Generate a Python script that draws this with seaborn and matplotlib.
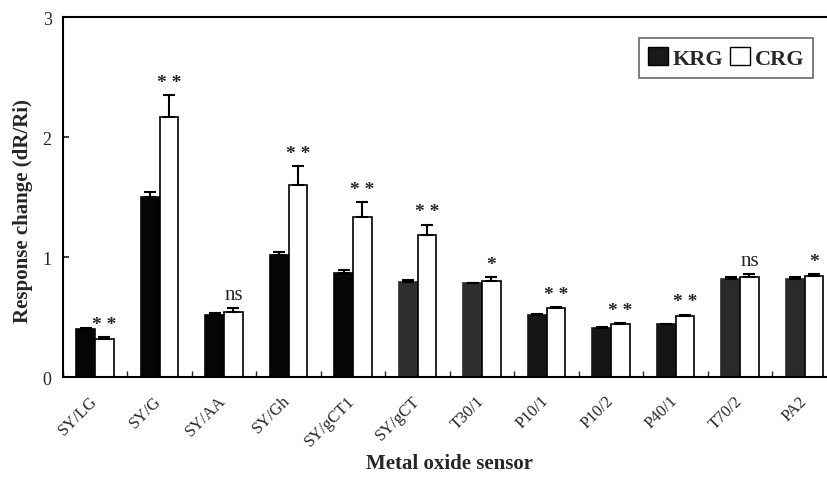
import matplotlib
matplotlib.use("Agg")
import matplotlib.pyplot as plt
import matplotlib.transforms as mtransforms
import numpy as np
import pandas as pd
import seaborn as sns
from matplotlib.patches import Patch
from matplotlib.ticker import FixedLocator

sensors = ["SY/LG", "SY/G", "SY/AA", "SY/Gh", "SY/gCT1", "SY/gCT",
           "T30/1", "P10/1", "P10/2", "P40/1", "T70/2", "PA2"]
krg = [0.40, 1.50, 0.52, 1.02, 0.87, 0.79, 0.78, 0.52, 0.41, 0.44, 0.82, 0.82]
krg_err = [0.01, 0.04, 0.01, 0.02, 0.02, 0.015, 0.005, 0.005, 0.005, 0.005, 0.01, 0.01]
crg = [0.32, 2.17, 0.54, 1.60, 1.33, 1.18, 0.80, 0.575, 0.44, 0.51, 0.83, 0.845]
crg_err = [0.01, 0.18, 0.035, 0.16, 0.13, 0.09, 0.03, 0.01, 0.01, 0.01, 0.025, 0.01]
signif = ["**", "**", "ns", "**", "**", "**", "*", "**", "**", "**", "ns", "*"]

df = pd.DataFrame({
    "sensor": sensors * 2,
    "group": ["KRG"] * len(sensors) + ["CRG"] * len(sensors),
    "value": krg + crg,
})

sns.set_theme(style="ticks")
plt.rcParams["font.family"] = ["Liberation Serif", "DejaVu Serif"]

fig = plt.figure(figsize=(8.28, 4.81), dpi=100)
ax = fig.add_axes([0.0758, 0.2141, 0.9348, 0.7484])

sns.barplot(data=df, x="sensor", y="value", hue="group",
            palette={"KRG": "black", "CRG": "white"},
            width=0.58, edgecolor="black", linewidth=1.2,
            errorbar=None, legend=False, ax=ax)

# darker grey stipple look for some KRG bars
krg_colors = ["#050505"] * 5 + ["#2e2e2e", "#2e2e2e", "#151515", "#151515",
                                 "#151515", "#2a2a2a", "#2a2a2a"]
for bar, c in zip(ax.containers[0], krg_colors):
    bar.set_facecolor(c)
    bar.set_edgecolor(c)

# upward error bars
for cont, vals, errs in [(ax.containers[0], krg, krg_err),
                         (ax.containers[1], crg, crg_err)]:
    xs = [b.get_x() + b.get_width() / 2 for b in cont]
    ax.errorbar(xs, vals, yerr=[np.zeros(len(errs)), errs], fmt="none",
                ecolor="black", elinewidth=1.5, capsize=4, capthick=1.5)

# significance markers above CRG bars
for b, v, e, s in zip(ax.containers[1], crg, crg_err, signif):
    xc = b.get_x() + b.get_width() / 2
    if s == "ns":
        ax.annotate(s, (xc, v + e), xytext=(0, 3), textcoords="offset points",
                    ha="center", va="bottom", fontsize=15)
    else:
        ax.annotate(" ".join(s), (xc, v + e), xytext=(0, 3),
                    textcoords="offset points", ha="center", va="bottom",
                    fontsize=14, fontweight="bold")

ax.set_xlim(-0.5, 11.5)
ax.set_ylim(0, 3)
ax.set_yticks([0, 1, 2, 3])
ax.tick_params(axis="y", direction="in", length=4, labelsize=13, pad=8)
ax.tick_params(axis="x", which="major", length=0, labelsize=12, pad=11)
ax.xaxis.set_minor_locator(FixedLocator(np.arange(-0.5, 12, 1)))
ax.tick_params(axis="x", which="minor", direction="in", length=4)
shift = mtransforms.ScaledTranslation(-6 / 100, 0, fig.dpi_scale_trans)
for lab in ax.get_xticklabels():
    lab.set_rotation(45)
    lab.set_ha("right")
    lab.set_rotation_mode("anchor")
    lab.set_transform(lab.get_transform() + shift)

for sp in ax.spines.values():
    sp.set_linewidth(1.5)
    sp.set_color("black")

ax.set_xlabel("Metal oxide sensor", fontsize=15, fontweight="bold")
ax.xaxis.set_label_coords(0.5, -0.212)
ax.set_ylabel("Response change (dR/Ri)", fontsize=15, fontweight="bold")
ax.yaxis.set_label_coords(-0.038, 0.464)

handles = [Patch(facecolor="#1a1a1a", edgecolor="black", label="KRG"),
           Patch(facecolor="white", edgecolor="black", label="CRG")]
leg = ax.legend(handles=handles, ncol=2, loc="upper right",
                bbox_to_anchor=(0.969, 0.942), borderaxespad=0,
                prop={"weight": "bold", "size": 16}, fancybox=False,
                handlelength=0.9, handleheight=0.9, handletextpad=0.2,
                columnspacing=0.3, borderpad=0.4)
leg.get_frame().set_edgecolor("#444444")
leg.get_frame().set_linewidth(1.2)

fig.savefig("out.png", dpi=100)
